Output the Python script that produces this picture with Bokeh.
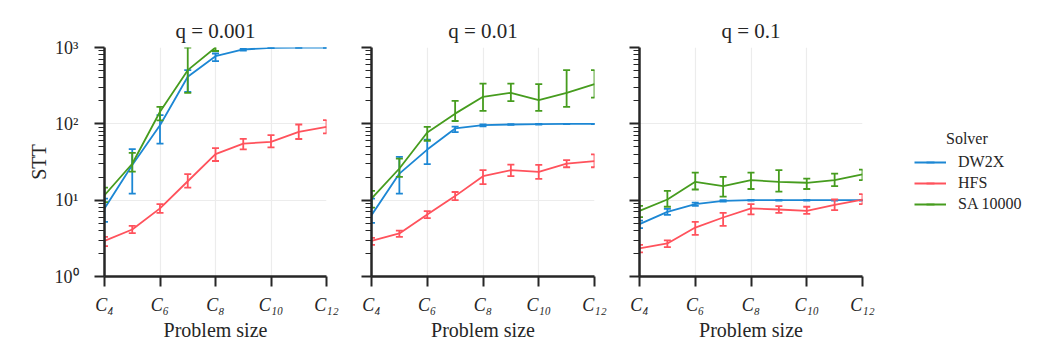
import math
from bokeh.plotting import figure
from bokeh.models import ColumnDataSource, FixedTicker, Legend, LegendItem
from bokeh.layouts import row
from bokeh.embed import file_html
from bokeh.resources import INLINE

# ---------------- data ----------------
sizes = [4, 5, 6, 7, 8, 9, 10, 11, 12]
sa_sizes_q001 = [4, 5, 6, 7, 8]
x_ticks = [4, 6, 8, 10, 12]
x_tick_labels = ["C₄", "C₆", "C₈", "C₁₀", "C₁₂"]
y_ticks = [1, 10, 100, 1000]
y_tick_labels = ["10⁰", "10¹", "10²", "10³"]
titles = ["q = 0.001", "q = 0.01", "q = 0.1"]
solvers = ["DW2X", "HFS", "SA 10000"]

# q = 0.001
dw_q001 = [7.8, 28.8, 96, 413, 770, 942, 990, 1000, 1000]
dw_q001_lo = [5.2, 12.2, 55, 262, 662, 910, 980, 995, 995]
dw_q001_hi = [10.5, 46.6, 130, 505, 834, 960, 995, 1000, 1000]
hfs_q001 = [2.93, 4.13, 7.8, 17.7, 40, 55, 58, 78.5, 91]
hfs_q001_lo = [2.5, 3.7, 6.8, 14.6, 32.6, 46.3, 49.1, 63.3, 75]
hfs_q001_hi = [3.3, 4.6, 8.9, 22, 48, 63.6, 71, 98, 112]
sa_q001 = [11.6, 30, 144, 505, 1000]
sa_q001_lo = [9.4, 23.6, 111, 255, 900]
sa_q001_hi = [14.6, 41.7, 167, 1000, 1100]

# q = 0.01
dw_q01 = [6.36, 22.3, 46, 87, 96, 98, 99, 100, 100]
dw_q01_lo = [5.05, 12.2, 29.6, 78, 93, 97, 98, 99.5, 99.5]
dw_q01_hi = [10.5, 36.9, 62, 92, 98, 99, 100, 100, 100]
hfs_q01 = [2.93, 3.66, 6.5, 11.3, 20.6, 24.7, 23.5, 30.2, 32.4]
hfs_q01_lo = [2.6, 3.3, 5.8, 10, 16.2, 20.6, 19, 27, 27]
hfs_q01_hi = [3.2, 4.0, 7.2, 12.8, 24.7, 29.3, 29, 33.4, 39.7]
sa_q01 = [10.5, 26, 77, 136, 226, 255, 204, 255, 331]
sa_q01_lo = [8.0, 20.2, 60, 109, 148, 198, 148, 167, 221]
sa_q01_hi = [13.2, 35, 91, 200, 337, 337, 331, 505, 505]

# q = 0.1
dw_q1 = [4.85, 7.03, 8.87, 9.8, 10, 10, 10, 10, 10]
dw_q1_lo = [4.3, 6.4, 8.4, 9.6, 9.9, 9.9, 9.9, 9.9, 9.9]
dw_q1_hi = [5.4, 7.7, 9.3, 10, 10, 10, 10, 10, 10]
hfs_q1 = [2.33, 2.71, 4.38, 5.93, 7.8, 7.55, 7.25, 8.7, 10.2]
hfs_q1_lo = [2.07, 2.42, 3.5, 4.6, 6.5, 6.8, 6.6, 7.4, 8.9]
hfs_q1_hi = [2.6, 2.98, 5.2, 6.8, 8.9, 8.35, 8.2, 10.2, 12]
sa_q1 = [7.25, 10.2, 17.4, 15.3, 18.3, 17.4, 16.9, 18.3, 21.7]
sa_q1_lo = [6.0, 8.2, 13.8, 11.1, 14, 12.9, 14, 15.3, 18.3]
sa_q1_hi = [8.4, 13.2, 23, 20.2, 23, 24.7, 19.1, 22.3, 25.2]

# ---------------- style ----------------
COLORS = ["#1c87d4", "#ff525c", "#469c1e"]
FONT = "Liberation Serif"
AXIS_COLOR = "#262626"
GRID_COLOR = "#ececec"
FIG_H = 344

minor_y = [m * 10 ** e for e in range(0, 3) for m in range(2, 10)]

panels = [
    [(sizes, dw_q001, dw_q001_lo, dw_q001_hi),
     (sizes, hfs_q001, hfs_q001_lo, hfs_q001_hi),
     (sa_sizes_q001, sa_q001, sa_q001_lo, sa_q001_hi)],
    [(sizes, dw_q01, dw_q01_lo, dw_q01_hi),
     (sizes, hfs_q01, hfs_q01_lo, hfs_q01_hi),
     (sizes, sa_q01, sa_q01_lo, sa_q01_hi)],
    [(sizes, dw_q1, dw_q1_lo, dw_q1_hi),
     (sizes, hfs_q1, hfs_q1_lo, hfs_q1_hi),
     (sizes, sa_q1, sa_q1_lo, sa_q1_hi)],
]

layout_spec = [
    dict(width=344, left=104, right=18),
    dict(width=268, left=27, right=18),
    dict(width=268, left=27, right=18),
]


def make_panel(idx):
    spec = layout_spec[idx]
    p = figure(width=spec["width"], height=FIG_H, y_axis_type="log",
               x_range=(4, 12), y_range=(1, 1000),
               output_backend="svg", toolbar_location=None,
               min_border_left=spec["left"], min_border_right=spec["right"],
               min_border_top=47, min_border_bottom=68)
    p.outline_line_color = None
    p.background_fill_color = "white"
    p.border_fill_color = "white"

    p.title.text = titles[idx]
    p.title.align = "center"
    p.title.text_font = FONT
    p.title.text_font_size = "21px"
    p.title.text_font_style = "normal"
    p.title.text_color = "#262626"

    p.xaxis.ticker = FixedTicker(ticks=x_ticks, minor_ticks=[])
    p.xaxis.major_label_overrides = dict(zip(x_ticks, x_tick_labels))
    p.yaxis.ticker = FixedTicker(ticks=y_ticks, minor_ticks=minor_y)
    if idx == 0:
        p.yaxis.major_label_overrides = dict(zip(y_ticks, y_tick_labels))
    else:
        p.yaxis.major_label_overrides = {t: "" for t in y_ticks}

    for ax in (p.xaxis[0], p.yaxis[0]):
        ax.axis_line_width = 2.5
        ax.axis_line_color = AXIS_COLOR
        ax.major_tick_line_color = AXIS_COLOR
        ax.minor_tick_line_color = AXIS_COLOR
        ax.major_tick_line_width = 2
        ax.minor_tick_line_width = 1.2
        ax.major_tick_out = 10
        ax.major_tick_in = 0
        ax.minor_tick_out = 6
        ax.minor_tick_in = 0
        ax.major_label_text_font = FONT
        ax.major_label_text_font_size = "18px"
        ax.major_label_text_color = "#262626"
        ax.axis_label_text_font = FONT
        ax.axis_label_text_font_size = "20px"
        ax.axis_label_text_font_style = "normal"
        ax.axis_label_text_color = "#262626"

    p.xaxis.major_label_text_font_style = "italic"
    p.xaxis.major_label_standoff = 8
    p.xaxis.axis_label = "Problem size"
    p.xaxis.axis_label_standoff = 1
    if idx == 0:
        p.yaxis.major_label_standoff = 16
        p.yaxis.axis_label = "STT"
        p.yaxis.axis_label_standoff = 2
    else:
        p.yaxis.major_label_standoff = 12

    p.xgrid.grid_line_color = GRID_COLOR
    p.ygrid.grid_line_color = GRID_COLOR
    p.xgrid.grid_line_width = 1.2
    p.ygrid.grid_line_width = 1.2

    for (xs, ys, lo, hi), color in zip(panels[idx], COLORS):
        src = ColumnDataSource(dict(x=xs, y=ys, lo=lo, hi=hi))
        p.segment(x0="x", y0="lo", x1="x", y1="hi", source=src,
                  line_color=color, line_width=1.8)
        p.scatter(x="x", y="lo", source=src, marker="dash", size=7,
                  line_color=color, line_width=1.8)
        p.scatter(x="x", y="hi", source=src, marker="dash", size=7,
                  line_color=color, line_width=1.8)
        p.line(x="x", y="y", source=src, line_color=color, line_width=1.8)
    return p


figs = [make_panel(i) for i in range(3)]

# separate narrow figure that only holds the legend; its proxy renderers
# reuse the last panel's data, which lies outside this figure's ranges
pl = figure(width=155, height=FIG_H, x_range=(0, 1), y_range=(0, 1),
            output_backend="svg", toolbar_location=None,
            x_axis_location=None, y_axis_location=None,
            min_border=0)
pl.outline_line_color = None
pl.xgrid.visible = False
pl.ygrid.visible = False

items = []
for (xs, ys, lo, hi), name, color in zip(panels[2], solvers, COLORS):
    ln = pl.line(x=xs, y=ys, line_color=color, line_width=1.8)
    st = pl.scatter(x=xs, y=ys, marker="dash", angle=math.pi / 2, size=14,
                    line_color=color, line_width=1.8)
    items.append(LegendItem(label=name, renderers=[ln, st]))
legend = Legend(items=items, title="\u00a0" * 8 + "Solver", location=(34, 62))
legend.border_line_color = None
legend.background_fill_alpha = 0
legend.label_text_font = FONT
legend.label_text_font_size = "16px"
legend.label_text_color = "#262626"
legend.title_text_font = FONT
legend.title_text_font_size = "16px"
legend.title_text_font_style = "normal"
legend.title_text_color = "#262626"
legend.glyph_width = 32
legend.glyph_height = 20
legend.label_height = 20
legend.spacing = 1
legend.label_standoff = 12
legend.margin = 0
legend.padding = 8
legend.title_standoff = 4
pl.add_layout(legend)

layout = row(*figs, pl)
open("out.html", "w").write(file_html(layout, INLINE))
